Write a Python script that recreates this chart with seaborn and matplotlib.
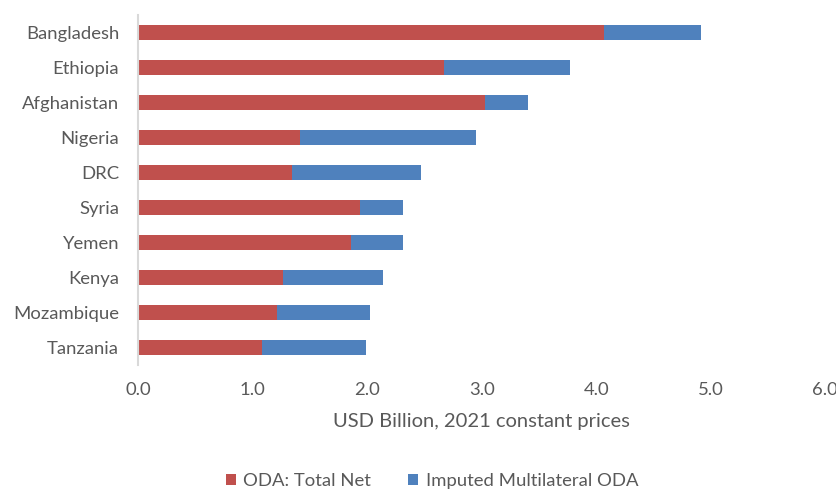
import matplotlib
matplotlib.use("Agg")
import matplotlib.pyplot as plt
import seaborn as sns
import pandas as pd

# Top recipients of ODA, USD billion (2021 constant prices)
countries = ["Bangladesh", "Ethiopia", "Afghanistan", "Nigeria", "DRC",
             "Syria", "Yemen", "Kenya", "Mozambique", "Tanzania"]
oda_total_net = [4.07, 2.67, 3.03, 1.41, 1.34, 1.94, 1.86, 1.26, 1.21, 1.08]
imputed_multilateral = [0.85, 1.10, 0.37, 1.54, 1.13, 0.37, 0.45, 0.88, 0.81, 0.91]
x_ticks = [0.0, 1.0, 2.0, 3.0, 4.0, 5.0, 6.0]

RED = "#C0504D"
BLUE = "#4F81BD"
TEXT = "#595959"

df = pd.DataFrame({
    "country": countries,
    "oda": oda_total_net,
    "multi": imputed_multilateral,
})
df["stacked"] = df["oda"] + df["multi"]

sns.set_theme(style="white")
plt.rcParams["font.family"] = ["Lato", "DejaVu Sans"]

fig = plt.figure(figsize=(8.37, 4.90), dpi=100)
ax = fig.add_axes([138.5 / 837, 125 / 490, (825 - 138.5) / 837, 350 / 490])

# Stacked bars: full length in blue, ODA total net drawn over it in red
sns.barplot(data=df, x="stacked", y="country", orient="h", color=BLUE,
            width=0.42, saturation=1, linewidth=0, ax=ax,
            label="Imputed Multilateral ODA")
sns.barplot(data=df, x="oda", y="country", orient="h", color=RED,
            width=0.42, saturation=1, linewidth=0, ax=ax,
            label="ODA: Total Net")

ax.set_xlim(0, 6)
ax.set_ylim(len(countries) - 0.5, -0.5)
ax.set_xticks(x_ticks)
ax.set_xticklabels([f"{t:.1f}" for t in x_ticks])
ax.set_ylabel("")
ax.set_xlabel("USD Billion, 2021 constant prices", color=TEXT, fontsize=14.5, labelpad=11)

for side in ["top", "right", "bottom"]:
    ax.spines[side].set_visible(False)
ax.spines["left"].set_color("#D9D9D9")
ax.spines["left"].set_linewidth(1.5)

ax.tick_params(axis="x", length=0, pad=12, labelsize=13.3, labelcolor=TEXT)
ax.tick_params(axis="y", length=0, pad=14, labelsize=13.3, labelcolor=TEXT)

handles, labels = ax.get_legend_handles_labels()
order = [labels.index("ODA: Total Net"), labels.index("Imputed Multilateral ODA")]
leg = fig.legend([handles[i] for i in order], [labels[i] for i in order],
                 loc="center", bbox_to_anchor=(432 / 837, 1 - 481 / 490), ncol=2,
                 frameon=False, fontsize=13.3, handlelength=0.55, handleheight=0.55,
                 columnspacing=2.0, handletextpad=0.4)
for t in leg.get_texts():
    t.set_color(TEXT)
if ax.get_legend() is not None:
    ax.get_legend().remove()

fig.savefig("out.png", dpi=100)
